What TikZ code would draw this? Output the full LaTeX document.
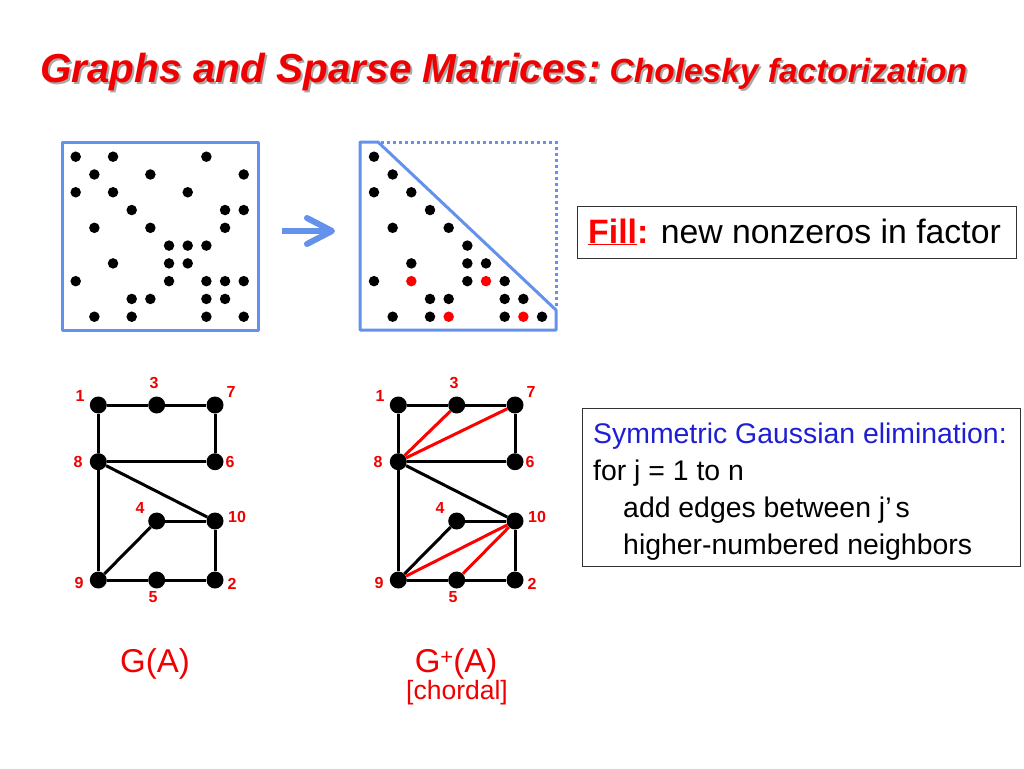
\documentclass[tikz,border=0pt]{standalone}
\usepackage{fontspec}
\setmainfont{Liberation Sans}
\definecolor{boxblue}{RGB}{100,145,235}
\definecolor{tred}{RGB}{240,0,0}
\definecolor{algblue}{RGB}{30,30,210}
\definecolor{shadowgray}{RGB}{170,170,170}
\begin{document}
\begin{tikzpicture}[x=1pt,y=-1pt,
  mdot/.style={circle,fill=black,inner sep=0pt,minimum size=10.5pt},
  rdot/.style={circle,fill=red,inner sep=0pt,minimum size=10.5pt},
  gnode/.style={circle,fill=black,inner sep=0pt,minimum size=17pt},
  glabel/.style={text=tred,font=\fontsize{16}{18}\selectfont\bfseries,inner sep=0pt},
  gedge/.style={line width=3pt,black},
  fedge/.style={line width=3pt,red},
  mbox/.style={line width=3pt,boxblue,line join=round},
  tbox/.style={draw=black!80,line width=1.3pt,inner sep=0pt,anchor=north west}]
\useasboundingbox[fill=white] (0,0) rectangle (1024,768);

% ---------- title ----------
\node[anchor=base west,inner sep=0pt,text=shadowgray] (tshadow) at (42,84)
  {\fontsize{40.5}{46}\selectfont\bfseries\itshape Graphs and Sparse Matrices:\hspace{9pt}\fontsize{33.5}{38}\selectfont Cholesky factorization};
\node[anchor=base west,inner sep=0pt,text=tred] (title) at (40,82)
  {\fontsize{40.5}{46}\selectfont\bfseries\itshape Graphs and Sparse Matrices:\hspace{9pt}\fontsize{33.5}{38}\selectfont Cholesky factorization};

% ---------- left matrix ----------
\draw[mbox] (62,142) rectangle (258,330);
\foreach \r/\c in {1/1,1/3,1/8, 2/2,2/5,2/10, 3/1,3/3,3/7, 4/4,4/9,4/10, 5/2,5/5,5/9,
  6/6,6/7,6/8, 7/3,7/6,7/7, 8/1,8/6,8/8,8/9,8/10, 9/4,9/5,9/8,9/9, 10/2,10/4,10/8,10/10}
  \node[mdot] (L\r-\c) at ({75.7+(\c-1)*18.67},{156.7+(\r-1)*17.78}) {};

% ---------- arrow ----------
\coordinate (arA) at (282,231);
\coordinate (arB) at (330,231);
\coordinate (arT) at (332,231);
\coordinate (arU) at (307,218);
\coordinate (arD) at (307,244);
\draw[line width=6pt,boxblue] (arA) -- (arB);
\draw[line width=6pt,boxblue,line join=round,line cap=round] (arU) -- (arT) -- (arD);

% ---------- right matrix ----------
\draw[mbox] (378,142) -- (360,142) -- (360,330) -- (556,330) -- (556,310) -- cycle;
\draw[boxblue,line width=3pt,dash pattern=on 3pt off 3pt] (381,142) -- (556,142) -- (556,307);
\foreach \r/\c in {1/1, 2/2, 3/1,3/3, 4/4, 5/2,5/5, 6/6, 7/3,7/6,7/7, 8/1,8/6,8/8,
  9/4,9/5,9/8,9/9, 10/2,10/4,10/8,10/10}
  \node[mdot] (R\r-\c) at ({374+(\c-1)*18.67},{156.7+(\r-1)*17.78}) {};
\foreach \r/\c in {8/3,8/7,10/5,10/9}
  \node[rdot] (R\r-\c) at ({374+(\c-1)*18.67},{156.7+(\r-1)*17.78}) {};

% ---------- Fill box ----------
\node[tbox,minimum width=439pt,minimum height=52pt] (fillbox) at (577,206) {};
\node[anchor=base west,inner sep=0pt] (filltext) at (588,243)
  {\fontsize{33.8}{38}\selectfont{\color{red}\bfseries\underline{Fill}:} new nonzeros in factor};

% ---------- algorithm box ----------
\node[tbox,minimum width=438pt,minimum height=158pt] (algbox) at (582,408) {};
\node[anchor=base west,inner sep=0pt,text=algblue,font=\fontsize{28.4}{32}\selectfont] (alg1) at (593,443) {Symmetric Gaussian elimination:};
\node[anchor=base west,inner sep=0pt,font=\fontsize{28.4}{32}\selectfont] (alg2) at (593,480) {for j = 1 to n};
\node[anchor=base west,inner sep=0pt,font=\fontsize{28.4}{32}\selectfont] (alg3) at (623,517) {add edges between j’\hspace{4pt}s};
\node[anchor=base west,inner sep=0pt,font=\fontsize{28.4}{32}\selectfont] (alg4) at (623,554) {higher-numbered neighbors};

% ---------- graphs ----------
\foreach \g/\dx in {a/0,b/300}{
  \node[gnode] (\g1) at (98.3+\dx,405) {};
  \node[gnode] (\g3) at (156.7+\dx,405) {};
  \node[gnode] (\g7) at (215+\dx,405) {};
  \node[gnode] (\g8) at (98.3+\dx,461.7) {};
  \node[gnode] (\g6) at (215+\dx,461.7) {};
  \node[gnode] (\g4) at (156.7+\dx,521) {};
  \node[gnode] (\g10) at (215+\dx,521) {};
  \node[gnode] (\g9) at (98.3+\dx,580) {};
  \node[gnode] (\g5) at (156.7+\dx,580) {};
  \node[gnode] (\g2) at (215+\dx,580) {};
  \node[glabel] (\g l1) at (80+\dx,396) {1};
  \node[glabel] (\g l3) at (154+\dx,383) {3};
  \node[glabel] (\g l7) at (231+\dx,392) {7};
  \node[glabel] (\g l8) at (78+\dx,462) {8};
  \node[glabel] (\g l6) at (230+\dx,462) {6};
  \node[glabel] (\g l4) at (140+\dx,508) {4};
  \node[glabel] (\g l10) at (237+\dx,517) {10};
  \node[glabel] (\g l9) at (79+\dx,583) {9};
  \node[glabel] (\g l5) at (153+\dx,597) {5};
  \node[glabel] (\g l2) at (232+\dx,584) {2};
  \draw[gedge] (\g1) -- (\g3);
  \draw[gedge] (\g3) -- (\g7);
  \draw[gedge] (\g1) -- (\g8);
  \draw[gedge] (\g7) -- (\g6);
  \draw[gedge] (\g8) -- (\g6);
  \draw[gedge] (\g8) -- (\g10);
  \draw[gedge] (\g4) -- (\g10);
  \draw[gedge] (\g4) -- (\g9);
  \draw[gedge] (\g8) -- (\g9);
  \draw[gedge] (\g9) -- (\g5);
  \draw[gedge] (\g5) -- (\g2);
  \draw[gedge] (\g2) -- (\g10);
}
\draw[fedge] (b8) -- (b3);
\draw[fedge] (b8) -- (b7);
\draw[fedge] (b9) -- (b10);
\draw[fedge] (b5) -- (b10);

% ---------- captions ----------
\node[anchor=base,inner sep=0pt,text=tred,font=\fontsize{33}{38}\selectfont] (ga) at (155,672) {G(A)};
\node[anchor=base,inner sep=0pt,text=tred,font=\fontsize{33}{38}\selectfont] (gpa) at (456,672) {G\raisebox{8pt}{\fontsize{22}{24}\selectfont +}(A)};
\node[anchor=base,inner sep=0pt,text=tred,font=\fontsize{26.5}{30}\selectfont] (chordal) at (457,699) {[chordal]};
\end{tikzpicture}
\end{document}
